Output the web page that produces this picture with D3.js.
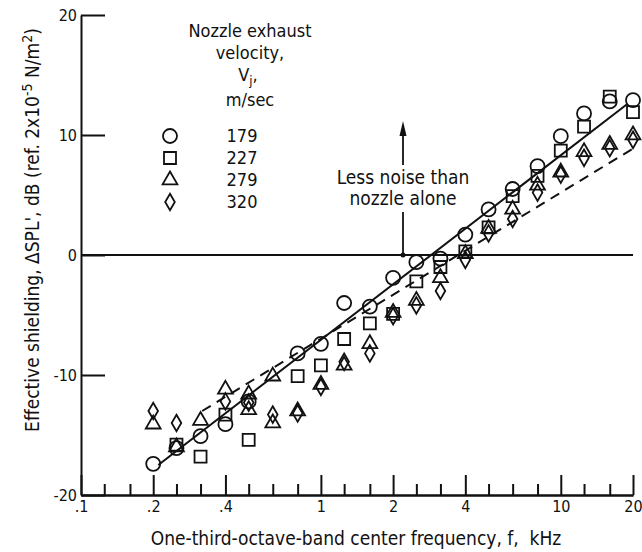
<!DOCTYPE html>
<html>
<head>
<meta charset="utf-8">
<script src="https://cdn.jsdelivr.net/npm/d3@7"></script>
<style>
  body { margin: 0; background: #fff; }
  svg { display: block; }
  text { font-family: "DejaVu Sans Condensed", "DejaVu Sans", sans-serif; font-stretch: condensed; fill: #111; }
  .axis path, .axis line { stroke: #111; stroke-width: 2; }
  .axis text { font-size: 16px; }
</style>
</head>
<body>
<svg id="chart" width="642" height="552"></svg>
<script>
// one-third-octave band data, [frequency kHz, delta SPL dB]
var circle179 = [
  [0.2, -17.4], [0.25, -16.1], [0.315, -15.1], [0.4, -14.1], [0.5, -12.2],
  [0.8, -8.2], [1.0, -7.4], [1.25, -4.0], [1.6, -4.3], [2.0, -1.9],
  [2.5, -0.6], [3.15, -0.3], [4, 1.7], [5, 3.8], [6.3, 5.5], [8, 7.4],
  [10, 9.9], [12.5, 11.8], [16, 12.8], [20, 12.9]
];
var square227 = [
  [0.25, -15.8], [0.315, -16.8], [0.4, -13.3], [0.5, -15.4], [0.8, -10.1],
  [1.0, -9.2], [1.25, -7.0], [1.6, -5.7], [2.0, -4.9], [2.5, -2.2],
  [3.15, -1.0], [4, 0.3], [5, 2.3], [6.3, 4.9], [8, 6.6], [10, 8.7],
  [12.5, 10.7], [16, 13.2], [20, 11.9]
];
var triangle279 = [
  [0.2, -14.1], [0.25, -16.0], [0.315, -13.8], [0.4, -11.2], [0.5, -11.6],
  [0.5, -12.9], [0.63, -10.1], [0.63, -14.0], [0.8, -13.0], [1.0, -10.8],
  [1.25, -9.2], [1.6, -7.4], [2.0, -4.8], [2.5, -3.8], [3.15, -1.9],
  [4, 0.1], [5, 2.2], [6.3, 3.8], [8, 5.8], [10, 6.9], [12.5, 8.6],
  [16, 9.2], [20, 10.0]
];
var diamond320 = [
  [0.2, -13.0], [0.25, -14.0], [0.4, -12.2], [0.5, -12.3], [0.63, -13.3],
  [0.8, -13.2], [1.0, -11.0], [1.25, -8.9], [1.6, -8.2], [2.0, -5.1],
  [2.5, -4.2], [3.15, -3.0], [4, -0.4], [5, 1.8], [6.3, 3.0], [8, 5.2],
  [10, 6.7], [12.5, 8.1], [16, 8.9], [20, 9.6]
];
// faired curves
var solidLine = [[0.21, -17.5], [19, 12.6]];
var dashedLine = [[0.32, -13.0], [20.5, 9.0]];

var velocities = ["179", "227", "279", "320"];
var minorTicks = [0.125, 0.16, 0.25, 0.315, 0.5, 0.63, 0.8, 1.25, 1.6, 2.5, 3.15, 5, 6.3, 8, 12.5, 16];
var majorTicks = [0.1, 0.2, 0.4, 1, 2, 4, 10, 20];
var majorLabels = [".1", ".2", ".4", "1", "2", "4", "10", "20"];
var yTicks = [20, 10, 0, -10, -20];

var svg = d3.select("#chart");
var x = d3.scaleLog().domain([0.1, 20]).range([81, 633]);
var y = d3.scaleLinear().domain([-20, 20]).range([495, 15]);

// y axis, ticks pointing into the plot
svg.append("g").attr("class", "axis").attr("transform", "translate(81,0)")
  .call(d3.axisLeft(y).tickValues(yTicks).tickSizeInner(-24).tickSizeOuter(0).tickPadding(4)
    .tickFormat(function(d) { return String(d); }));

// x axis: short minor ticks, long labelled ticks
svg.append("g").attr("class", "axis").attr("transform", "translate(0,495)")
  .call(d3.axisBottom(x).tickValues(minorTicks).tickSizeInner(-11).tickSizeOuter(0).tickFormat(""));
svg.append("g").attr("class", "axis").attr("transform", "translate(0,495)")
  .call(d3.axisBottom(x).tickValues(majorTicks).tickSizeInner(-20).tickSizeOuter(0).tickPadding(6)
    .tickFormat(function(d, i) { return majorLabels[i]; }));

// zero line
svg.append("line")
  .attr("x1", x(0.1)).attr("x2", x(20)).attr("y1", y(0)).attr("y2", y(0))
  .attr("stroke", "#111").attr("stroke-width", 2);

var line = d3.line().x(function(d) { return x(d[0]); }).y(function(d) { return y(d[1]); });
svg.append("path").datum(solidLine).attr("d", line)
  .attr("fill", "none").attr("stroke", "#111").attr("stroke-width", 2);
svg.append("path").datum(dashedLine).attr("d", line)
  .attr("fill", "none").attr("stroke", "#111").attr("stroke-width", 2).attr("stroke-dasharray", "10,7");

// markers
var shapes = [
  { data: circle179, type: d3.symbolCircle, size: 155 },
  { data: square227, type: d3.symbolSquare, size: 144 },
  { data: triangle279, type: d3.symbolTriangle, size: 95 },
  { data: diamond320, type: d3.symbolDiamond, size: 80 }
];
shapes.forEach(function(s) {
  svg.append("g").selectAll("path").data(s.data).enter().append("path")
    .attr("d", d3.symbol().type(s.type).size(s.size))
    .attr("transform", function(d) { return "translate(" + x(d[0]) + "," + y(d[1]) + ")"; })
    .attr("fill", "none").attr("stroke", "#111").attr("stroke-width", 1.8);
});

// legend
var legend = svg.append("g").attr("text-anchor", "middle").style("font-size", "18px");
legend.append("text").attr("x", 250).attr("y", 37).text("Nozzle exhaust");
legend.append("text").attr("x", 250).attr("y", 59).text("velocity,");
var vj = legend.append("text").attr("x", 248).attr("y", 81);
vj.append("tspan").text("V");
vj.append("tspan").attr("dy", 4).style("font-size", "13px").text("j");
vj.append("tspan").attr("dy", -4).text(",");
legend.append("text").attr("x", 250).attr("y", 106).text("m/sec");
velocities.forEach(function(v, i) {
  legend.append("text").attr("x", 242).attr("y", 142 + i * 22).text(v);
  legend.append("path")
    .attr("d", d3.symbol().type(shapes[i].type).size(shapes[i].size))
    .attr("transform", "translate(170," + (136 + i * 22) + ")")
    .attr("fill", "none").attr("stroke", "#111").attr("stroke-width", 1.8);
});

// annotation
var ax = 403;
svg.append("line").attr("x1", ax).attr("x2", ax).attr("y1", y(0)).attr("y2", 212)
  .attr("stroke", "#111").attr("stroke-width", 1.8);
svg.append("line").attr("x1", ax).attr("x2", ax).attr("y1", 165).attr("y2", 130)
  .attr("stroke", "#111").attr("stroke-width", 1.8);
svg.append("path").attr("d", "M" + ax + ",121L" + (ax - 3.5) + ",136L" + (ax + 3.5) + ",136Z").attr("fill", "#111");
svg.append("circle").attr("cx", ax).attr("cy", y(0)).attr("r", 2.5).attr("fill", "#111");
svg.append("text").attr("x", ax).attr("y", 184).attr("text-anchor", "middle").style("font-size", "19px").text("Less noise than");
svg.append("text").attr("x", ax).attr("y", 205).attr("text-anchor", "middle").style("font-size", "19px").text("nozzle alone");

// axis titles
svg.append("text").attr("x", 356).attr("y", 545).attr("text-anchor", "middle").style("font-size", "19px")
  .text("One-third-octave-band center frequency, f,\u00a0 kHz");
var yl = svg.append("text").attr("transform", "translate(39,230) rotate(-90)")
  .attr("text-anchor", "middle").style("font-size", "19px");
yl.append("tspan").text("Effective shielding, \u0394SPL', dB (ref. 2x10");
yl.append("tspan").attr("dy", -7).style("font-size", "14px").text("-5");
yl.append("tspan").attr("dy", 7).text(" N/m");
yl.append("tspan").attr("dy", -7).style("font-size", "14px").text("2");
yl.append("tspan").attr("dy", 7).text(")");
</script>
</body>
</html>
